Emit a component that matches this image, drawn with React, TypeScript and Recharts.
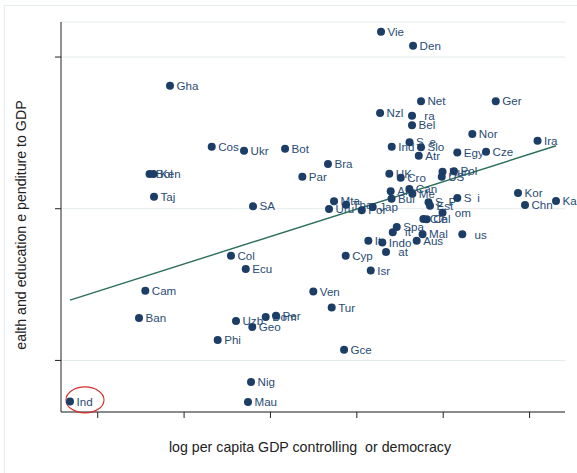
import React from 'react';
import { ScatterChart, Scatter, XAxis, YAxis, CartesianGrid, ReferenceLine } from 'recharts';

// Country abbreviations (some glyphs are blank in the source font, kept as spaces)
const countries: string[] = [
  'Vie', 'Den', 'Gha', 'Net', 'Ger', 'Nzl', '\u2002ra', 'Bel', 'Nor', 'Ira',
  'Cos', 'Ukr', 'Bot', 'Ind', 'S\u2002e', 'Slo', 'Atr', 'Egy', 'Cze', 'Bra',
  'Par', 'Bol', 'Ken', 'Taj', 'SA', 'UK', 'Cro', 'Hun', 'US', 'Pol',
  'Arg', 'Can', 'Me', 'Bul', 'Mta', 'Uru', 'Tha', 'Por', 'Jap', 'S\u2002P',
  'Est', '\u2002om', 'S\u2002i', 'Kor', 'Chn', 'Kaz', 'Cle', 'Chl', '\u2002us', 'Spa',
  '\u2002it', 'It', 'Indo', 'Mal', 'Aus', '\u2002at', 'Cyp', 'Isr', 'Col', 'Ecu',
  'Cam', 'Ban', 'Ven', 'Tur', 'Uzb', 'Dom', 'Per', 'Geo', 'Phi', 'Gce',
  'Nig', 'Mau', 'Ind',
];

// log per capita GDP (partialled on democracy)
const logGdp: number[] = [
  4.28, 4.651, 1.837, 4.743, 5.608, 4.269, 4.639, 4.639, 5.337, 6.092,
  2.32, 2.694, 3.169, 4.404, 4.61, 4.743, 4.717, 5.163, 5.496, 3.666,
  3.369, 1.6, 1.646, 1.652, 2.798, 4.376, 4.508, 4.992, 4.983, 5.125,
  4.392, 4.608, 4.643, 4.402, 3.736, 3.678, 3.875, 4.057, 4.184, 4.83,
  4.847, 4.992, 5.163, 5.866, 5.947, 6.306, 4.77, 4.809, 5.221, 4.462,
  4.416, 4.133, 4.295, 4.761, 4.693, 4.338, 3.871, 4.161, 2.543, 2.714,
  1.551, 1.478, 3.496, 3.709, 2.601, 2.945, 3.064, 2.79, 2.389, 3.852,
  2.775, 2.74, 0.679,
];

// health and education expenditure to GDP (partialled on democracy)
const spending: number[] = [
  3.167, 3.074, 2.811, 2.709, 2.709, 2.631, 2.613, 2.55, 2.492, 2.448,
  2.409, 2.382, 2.396, 2.409, 2.438, 2.405, 2.349, 2.371, 2.376, 2.295,
  2.211, 2.229, 2.229, 2.079, 2.016, 2.231, 2.204, 2.244, 2.211, 2.247,
  2.115, 2.13, 2.099, 2.066, 2.049, 1.998, 2.026, 1.99, 2.011, 2.043,
  2.02, 1.974, 2.071, 2.104, 2.024, 2.051, 1.932, 1.931, 1.831, 1.879,
  1.845, 1.789, 1.778, 1.832, 1.789, 1.715, 1.69, 1.593, 1.69, 1.603,
  1.459, 1.28, 1.455, 1.349, 1.26, 1.286, 1.295, 1.22, 1.134, 1.071,
  0.858, 0.726, 0.73,
];

// Fitted regression line endpoints
const fitLine = [
  { x: 0.679, y: 1.397 },
  { x: 6.306, y: 2.415 },
];

// Outlier singled out with a ring
const circledCountry = 'Ind';
const circledIndex = countries.length - 1;

const xTicks = [1, 2, 3, 4, 5, 6];
const yTicks = [1, 2, 3];

const points = countries.map((name, i) => ({
  name,
  x: logGdp[i],
  y: spending[i],
  circled: name === circledCountry && i === circledIndex,
}));

const FONT = '"Liberation Sans", Arial, Helvetica, sans-serif';
const DOT = '#1b3d66';
const LABEL = '#2a4c74';

const CountryMark = (props: any) => {
  const { cx, cy, payload } = props;
  if (cx == null || cy == null) return <g />;
  return (
    <g>
      {payload.circled && (
        <ellipse cx={cx + 15} cy={cy - 1.5} rx={19} ry={13} fill="none" stroke="#d42b2b" strokeWidth={1.1} />
      )}
      <circle cx={cx} cy={cy} r={4} fill={DOT} />
      <text
        x={cx + 6.5}
        y={cy}
        dy="0.36em"
        fontSize={11.6}
        fontFamily={FONT}
        fill={LABEL}
        style={{ whiteSpace: 'pre' }}
      >
        {payload.name}
      </text>
    </g>
  );
};

const NoTick = () => <g />;

export default function App() {
  return (
    <div style={{ position: 'absolute', left: 0, top: 0, width: 577, height: 473, background: '#fff', overflow: 'hidden' }}>
      <svg width={577} height={473} style={{ position: 'absolute', left: 0, top: 0 }}>
        <line x1={4.5} y1={5} x2={4.5} y2={473} stroke="#e6edef" strokeWidth={1} />
        <line x1={4} y1={5.5} x2={577} y2={5.5} stroke="#e6edef" strokeWidth={1} />
      </svg>
      <div style={{ position: 'absolute', left: 0, top: 0 }}>
        <ScatterChart
          width={577}
          height={473}
          margin={{ top: 22, right: 12, bottom: 31, left: 41 }}
          style={{ overflow: 'visible' }}
        >
          <CartesianGrid horizontal vertical={false} stroke="#e3ebec" strokeWidth={1} />
          <XAxis
            type="number"
            dataKey="x"
            domain={[0.575, 6.41]}
            ticks={xTicks}
            tick={NoTick}
            tickSize={6}
            height={30}
            axisLine={{ stroke: '#222', strokeWidth: 1 }}
            tickLine={{ stroke: '#222', strokeWidth: 1 }}
            label={{
              content: () => (
                <text
                  x={310}
                  y={447}
                  dy="0.35em"
                  textAnchor="middle"
                  fontSize={14.2}
                  fontFamily={FONT}
                  fill="#222"
                  style={{ whiteSpace: 'pre' }}
                >
                  {'log per capita GDP controlling \u00A0or democracy'}
                </text>
              ),
            }}
          />
          <YAxis
            type="number"
            dataKey="y"
            domain={[0.66, 3.231]}
            ticks={yTicks}
            tick={NoTick}
            tickSize={6}
            width={20}
            axisLine={{ stroke: '#222', strokeWidth: 1 }}
            tickLine={{ stroke: '#222', strokeWidth: 1 }}
            label={{
              content: () => (
                <text
                  x={21}
                  y={225}
                  dy="0.35em"
                  textAnchor="middle"
                  transform="rotate(-90 21 225)"
                  fontSize={14.2}
                  fontFamily={FONT}
                  fill="#222"
                >
                  ealth and education e penditure to GDP
                </text>
              ),
            }}
          />
          <Scatter data={points} shape={CountryMark} isAnimationActive={false} />
          <ReferenceLine
            segment={fitLine}
            stroke="#2b6e5a"
            strokeWidth={1.4}
            ifOverflow="visible"
          />
        </ScatterChart>
      </div>
    </div>
  );
}
